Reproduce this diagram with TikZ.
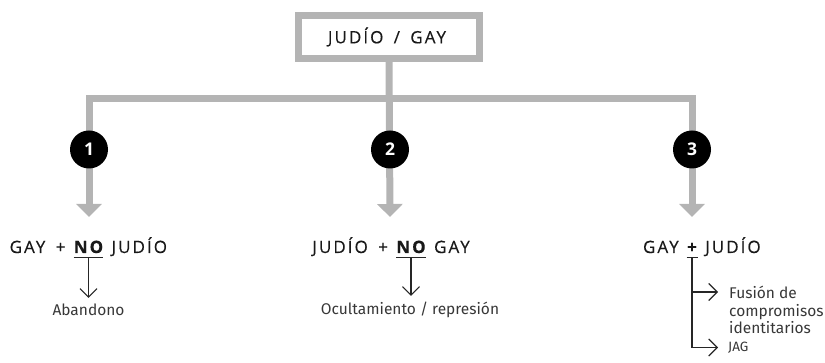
\documentclass[tikz,border=0pt]{standalone}
\usepackage{fontspec}
\setmainfont{Fira Sans}
\newfontfamily\capsfont[LetterSpace=12,WordSpace=1.6,FakeBold=0.4]{Open Sans}
\newfontfamily\digitfont{Open Sans}
\usetikzlibrary{arrows.meta,positioning}
\definecolor{treegray}{RGB}{180,180,180}
\definecolor{textdark}{RGB}{55,55,55}

\begin{document}
\begin{tikzpicture}[x=1pt,y=-1pt,
    bar/.style={treegray,line width=7pt,line join=miter},
    bigtips/.style={{Triangle[width=25pt,length=13pt]}-{Triangle[width=25pt,length=13pt]}},
    bigtip/.style={-{Triangle[width=25pt,length=13pt]}},
    numdot/.style={circle,fill=black,minimum size=38pt,inner sep=0pt,text=white,
        font=\digitfont\fontsize{17.5}{17.5}\selectfont\bfseries},
    caps/.style={inner sep=0pt,text=black!90,font=\capsfont\fontsize{17}{19}\selectfont},
    capsbold/.style={caps,font=\capsfont\fontsize{17}{19}\selectfont\bfseries},
    result/.style={inner sep=0pt,text=textdark,align=left,font=\fontsize{15.5}{17.5}\selectfont},
    leadarrow/.style={black!85,line width=1.1pt,-{Straight Barb[length=8.5pt,width=17pt]}},
    underbar/.style={black!85,line width=1.4pt}]
    \useasboundingbox (0,0) rectangle (825,363);

    % Top box and tree
    \node[draw=treegray,line width=7pt,minimum width=181pt,minimum height=43pt] (top) at (389,37) {};
    \node[caps] (toplabel) at (387,37) {JUDÍO / GAY};
    \coordinate (corner1) at (89,98.5);
    \coordinate (corner3) at (692,98.5);
    \coordinate (tip1) at (89,217);
    \coordinate (tip2) at (390,217);
    \coordinate (tip3) at (692,217);
    \draw[bar,bigtips] (tip1) -- (corner1) -- (corner3) -- (tip3);
    \draw[bar,bigtip] (top.south) -- (tip2);

    % Numbers
    \node[numdot] (n1) at (89,149.5) {1};
    \node[numdot] (n2) at (390,149.5) {2};
    \node[numdot] (n3) at (692,149.5) {3};

    % Case 1
    \node[capsbold,anchor=base] (no1) at (88.5,253) {NO};
    \node[caps,left=8pt of no1.base west,anchor=base east] (pre1) {GAY +};
    \node[caps,right=8pt of no1.base east,anchor=base west] (post1) {JUDÍO};
    \draw[underbar] ([yshift=-4.5pt]no1.base west) -- ([yshift=-4.5pt]no1.base east);
    \node[result] (res1) at (88.5,310) {Abandono};
    \draw[leadarrow,shorten <=4.5pt,shorten >=6pt] (no1.base) -- (res1.north);

    % Case 2
    \node[capsbold,anchor=base] (no2) at (411,253) {NO};
    \node[caps,left=8pt of no2.base west,anchor=base east] (pre2) {JUDÍO +};
    \node[caps,right=8pt of no2.base east,anchor=base west] (post2) {GAY};
    \draw[underbar] ([yshift=-4.5pt]no2.base west) -- ([yshift=-4.5pt]no2.base east);
    \node[result] (res2) at (410,310) {Ocultamiento / represión};
    \draw[leadarrow,shorten <=4.5pt,shorten >=6pt] (no2.base) -- (res2.north -| no2.base);

    % Case 3
    \node[capsbold,anchor=base] (plus3) at (692,253) {+};
    \node[caps,left=8pt of plus3.base west,anchor=base east] (pre3) {GAY};
    \node[caps,right=8pt of plus3.base east,anchor=base west] (post3) {JUDÍO};
    \draw[underbar] ([xshift=-5.5pt,yshift=-4.5pt]plus3.base) -- ([xshift=5.5pt,yshift=-4.5pt]plus3.base);
    \node[result,anchor=north west] (fus) at (729,286) {Fusión de\\compromisos\\identitarios};
    \node[result,anchor=west,font=\fontsize{13.5}{14}\selectfont] (jag) at (728,347.5) {JAG};
    \coordinate (fusarrow) at (718,292);
    \draw[leadarrow] ([yshift=-4.5pt]plus3.base) |- ([xshift=-10pt]jag.west);
    \draw[leadarrow] (plus3.base |- fusarrow) -- (fusarrow);
\end{tikzpicture}
\end{document}
